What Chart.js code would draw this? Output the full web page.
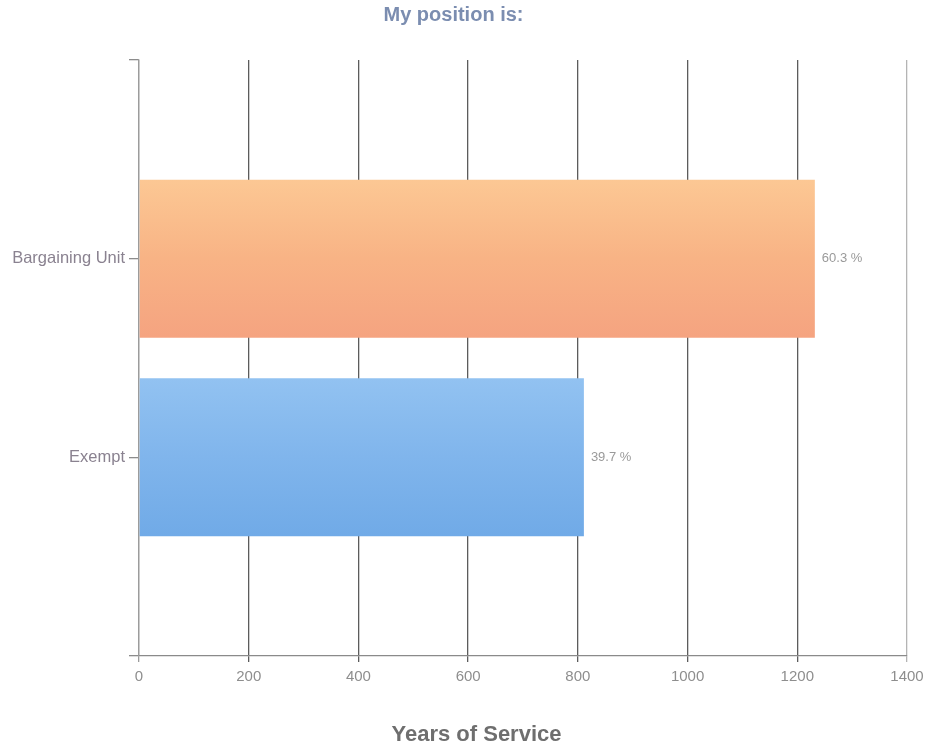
<!DOCTYPE html>
<html>
<head>
<meta charset="utf-8">
<title>My position is:</title>
<script src="https://cdn.jsdelivr.net/npm/chart.js@4/dist/chart.umd.min.js"></script>
<style>
  html, body { margin: 0; padding: 0; background: #ffffff; }
  #wrap { width: 933px; height: 747px; }
</style>
</head>
<body>
<div id="wrap"><canvas id="c" width="933" height="747"></canvas></div>
<script>
// Respondent counts by position type
const categories = ['Bargaining Unit', 'Exempt'];
const counts = [1232, 811];
const xTicks = [0, 200, 400, 600, 800, 1000, 1200, 1400];

const chartTitle = 'My position is:';
const axisTitle = 'Years of Service';

// Share of all respondents, shown at the end of each bar
const total = counts.reduce((a, b) => a + b, 0);
const shares = counts.map(v => (v / total * 100).toFixed(1) + ' %');

// Pad the category axis with an empty slot on each side so the bars sit
// at one third and two thirds of the plot height
const labels = [''].concat(categories, ['']);
const values = [null].concat(counts, [null]);
const shareLabels = [''].concat(shares, ['']);

const FONT = '"Liberation Sans", Arial, sans-serif';

const gradientStops = {
  1: ['#fcc894', '#f8b385', '#f5a380'],
  2: ['#92c2f1', '#80b5ec', '#70aae7']
};

function barFill(ctx) {
  const chart = ctx.chart;
  const stops = gradientStops[ctx.dataIndex];
  if (!stops) return '#cccccc';
  const yScale = chart.scales.y;
  if (!chart.chartArea || !yScale) return stops[1];
  const yc = yScale.getPixelForValue(ctx.dataIndex);
  const half = 80;
  const g = chart.ctx.createLinearGradient(0, yc - half, 0, yc + half);
  g.addColorStop(0, stops[0]);
  g.addColorStop(0.5, stops[1]);
  g.addColorStop(1, stops[2]);
  return g;
}

// Percent labels beside the bars, plus the value-axis caption below the ticks
const annotations = {
  id: 'annotations',
  afterDatasetsDraw(chart) {
    const ctx = chart.ctx;
    const meta = chart.getDatasetMeta(0);
    ctx.save();
    ctx.font = '13px ' + FONT;
    ctx.fillStyle = '#9a9a9a';
    ctx.textAlign = 'left';
    ctx.textBaseline = 'middle';
    meta.data.forEach((bar, i) => {
      if (values[i] == null) return;
      ctx.fillText(shareLabels[i], bar.x + 7, bar.y);
    });
    ctx.restore();
  },
  afterDraw(chart) {
    const ctx = chart.ctx;
    const xs = chart.scales.x;
    ctx.save();
    ctx.font = 'bold 22px ' + FONT;
    ctx.fillStyle = '#6e6e6e';
    ctx.textAlign = 'center';
    ctx.textBaseline = 'middle';
    ctx.fillText(axisTitle, chart.width / 2 + 10, xs.bottom - 12);
    ctx.restore();
  }
};

new Chart(document.getElementById('c'), {
  type: 'bar',
  data: {
    labels: labels,
    datasets: [{
      data: values,
      backgroundColor: barFill,
      borderWidth: 0,
      barPercentage: 0.795,
      categoryPercentage: 1
    }]
  },
  plugins: [annotations],
  options: {
    indexAxis: 'y',
    responsive: false,
    animation: false,
    layout: { padding: { left: 0, right: 26, top: 0, bottom: 0 } },
    plugins: {
      legend: { display: false },
      tooltip: { enabled: false },
      title: {
        display: true,
        text: chartTitle,
        color: '#7b8db0',
        font: { family: FONT, size: 20, weight: 'bold' },
        padding: { top: 3, bottom: 33 }
      }
    },
    scales: {
      x: {
        type: 'linear',
        min: 0,
        max: 1400,
        afterBuildTicks(scale) {
          scale.ticks = xTicks.map(v => ({ value: v }));
        },
        afterFit(scale) { scale.height = 91; },
        grid: {
          drawOnChartArea: true,
          drawTicks: true,
          tickLength: 6,
          lineWidth: 1.3,
          color(ctx) {
            const v = ctx.tick && ctx.tick.value;
            if (v === 1400) return '#b4b4b4';
            if (v === 0) return '#9c9c9c';
            return '#5c5c5c';
          }
        },
        border: { display: true, color: '#8a8a8a', width: 1.3 },
        ticks: {
          color: '#8e8e8e',
          padding: 6,
          maxRotation: 0,
          font: { family: FONT, size: 15 },
          callback: v => String(v)
        }
      },
      y: {
        type: 'category',
        offset: false,
        afterFit(scale) { scale.width = 139; },
        grid: {
          offset: false,
          drawOnChartArea: false,
          drawTicks: true,
          tickLength: 10,
          color: '#8c8c8c',
          lineWidth: 1.3
        },
        border: { display: true, color: '#9c9c9c', width: 1.3 },
        ticks: {
          color: '#8a8290',
          padding: 4,
          font: { family: FONT, size: 16.5 }
        }
      }
    }
  }
});
</script>
</body>
</html>
